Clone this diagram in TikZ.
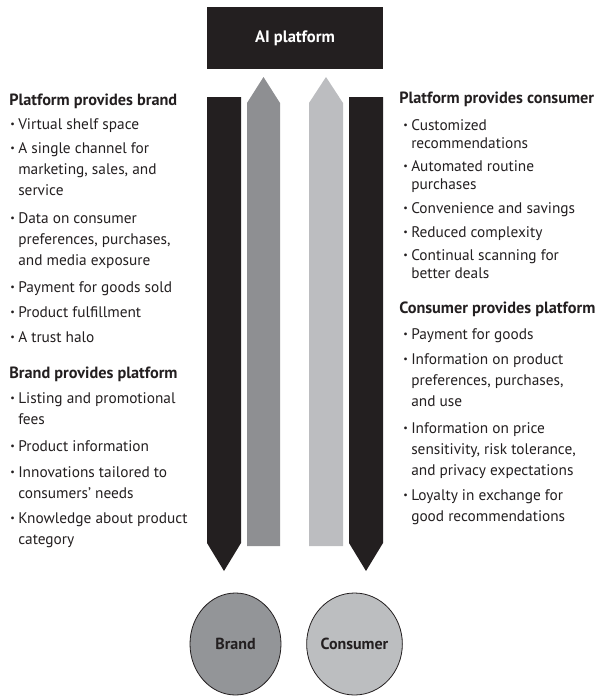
\documentclass[tikz,border=0pt]{standalone}
\usepackage{fontspec}
\setmainfont{PT Sans}
\usetikzlibrary{shapes.geometric}
\definecolor{inkblack}{HTML}{231F20}
\definecolor{flowgrey}{HTML}{8E8F92}
\definecolor{flowlight}{HTML}{BCBDC0}
\definecolor{brandgrey}{HTML}{939598}
\definecolor{consumergrey}{HTML}{BCBEC0}
% bullet followed by a block of lines that stay indented
\newcommand{\bl}[1]{\makebox[6pt][l]{\raisebox{.12em}{\fontsize{7.5}{7.5}\selectfont\textbullet}}%
    \begin{tabular}[t]{@{}l@{}}#1\end{tabular}}

\begin{document}
\begin{tikzpicture}[
    x=0.75pt, y=-0.75pt,
    head/.style={anchor=base west, inner sep=0, text=inkblack,
        font=\bfseries\fontsize{12.2}{14}\selectfont},
    entry/.style={anchor=base west, inner sep=0, text=inkblack,
        font=\fontsize{11.5}{16}\selectfont},
    tight/.style={font=\fontsize{11.5}{13.5}\selectfont},
    party/.style={ellipse, draw=inkblack, line width=0.6pt, inner sep=0,
        minimum width=68.25pt, minimum height=76.5pt, text=inkblack,
        font=\bfseries\fontsize{12}{14}\selectfont}
]
\useasboundingbox (0,0) rectangle (598,696);

\node[fill=inkblack, minimum width=132pt, minimum height=46.5pt, text=white,
    font=\bfseries\fontsize{12.4}{14}\selectfont] (ai) at (295,38) {AI platform};

% flows between the platform and the two parties
\fill[inkblack] (207,97) -- (241,97) -- (241,543) -- (224,571) -- (207,543) -- cycle;
\fill[flowgrey] (247,546) -- (247,103) -- (263.5,77) -- (280,103) -- (280,546) -- cycle;
\fill[flowlight] (309,546) -- (309,103) -- (326,77) -- (343,103) -- (343,546) -- cycle;
\fill[inkblack] (349,97) -- (383,97) -- (383,543) -- (366,571) -- (349,543) -- cycle;

\node[party, fill=brandgrey] (brand) at (235.5,644) {Brand};
\node[party, fill=consumergrey] (consumer) at (354.5,644) {Consumer};

% left column
\node[head] (pbhead) at (9,105) {Platform provides brand};
\node[entry] (pb1) at (10,129) {\bl{Virtual shelf space}};
\node[entry] (pb2) at (10,153) {\bl{A single channel for\\marketing, sales, and\\service}};
\node[entry] (pb3) at (10,223) {\bl{Data on consumer\\preferences, purchases,\\and media exposure}};
\node[entry] (pb4) at (10,292) {\bl{Payment for goods sold}};
\node[entry] (pb5) at (10,317) {\bl{Product fulfillment}};
\node[entry] (pb6) at (10,342) {\bl{A trust halo}};

\node[head] (bphead) at (9,378) {Brand provides platform};
\node[entry] (bp1) at (10,403) {\bl{Listing and promotional\\fees}};
\node[entry] (bp2) at (10,451) {\bl{Product information}};
\node[entry] (bp3) at (10,477) {\bl{Innovations tailored to\\consumers’ needs}};
\node[entry] (bp4) at (10,523) {\bl{Knowledge about product\\category}};

% right column
\node[head] (pchead) at (399,103) {Platform provides consumer};
\node[entry, tight] (pc1) at (403,130) {\bl{Customized\\recommendations}};
\node[entry, tight] (pc2) at (403,171) {\bl{Automated routine\\purchases}};
\node[entry, tight] (pc3) at (403,213) {\bl{Convenience and savings}};
\node[entry, tight] (pc4) at (403,237) {\bl{Reduced complexity}};
\node[entry, tight] (pc5) at (403,260) {\bl{Continual scanning for\\better deals}};

\node[head] (cphead) at (399,313) {Consumer provides platform};
\node[entry] (cp1) at (403,339) {\bl{Payment for goods}};
\node[entry] (cp2) at (403,364) {\bl{Information on product\\preferences, purchases,\\and use}};
\node[entry] (cp3) at (403,433) {\bl{Information on price\\sensitivity, risk tolerance,\\and privacy expectations}};
\node[entry] (cp4) at (403,500) {\bl{Loyalty in exchange for\\good recommendations}};
\end{tikzpicture}
\end{document}
